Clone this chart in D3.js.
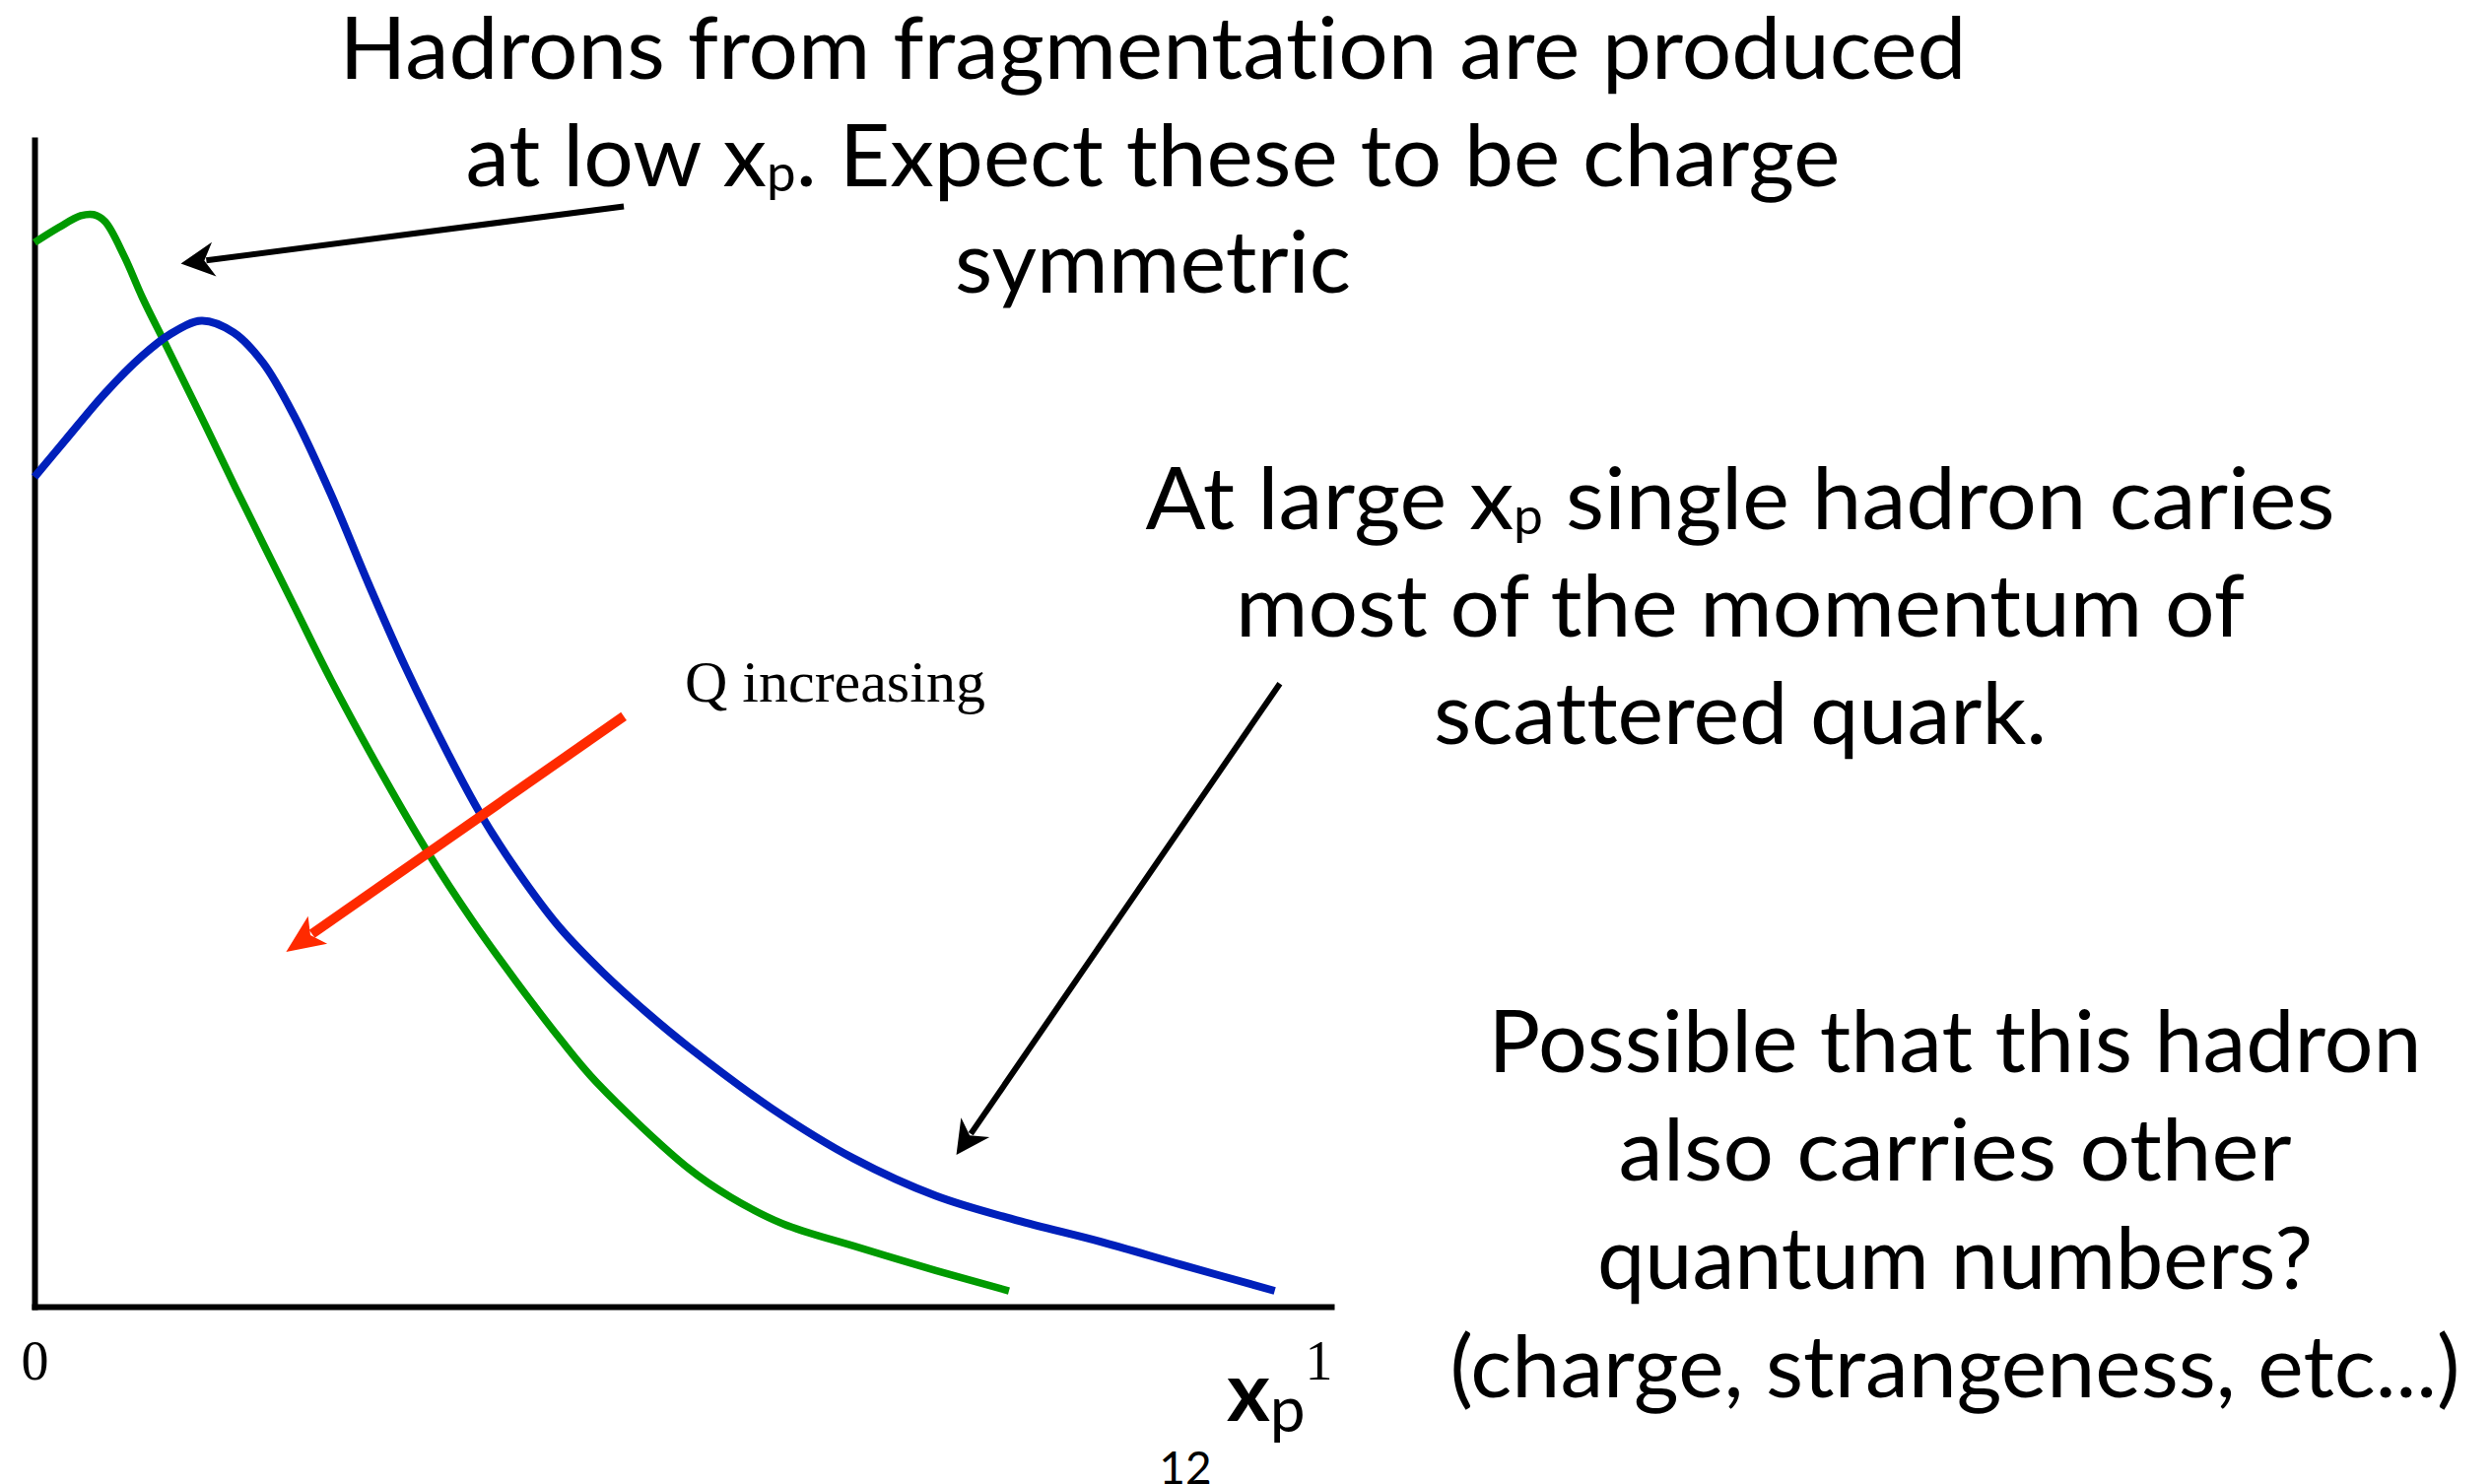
<!DOCTYPE html>
<html>
<head>
<meta charset="utf-8">
<script src="https://cdn.jsdelivr.net/npm/d3@7"></script>
<style>
  body { margin: 0; background: #fff; }
  svg { display: block; }
  text { font-variant-ligatures: none; }
</style>
</head>
<body>
<div id="chart"></div>
<script>
// fragmentation function sketch: D(x_p) for two values of Q
const lowQ = [
  [0, 0.912], [0.019, 0.925], [0.036, 0.935], [0.046, 0.936], [0.055, 0.930],
  [0.070, 0.900], [0.084, 0.865], [0.102, 0.825], [0.128, 0.767], [0.157, 0.701],
  [0.202, 0.601], [0.231, 0.537], [0.272, 0.454], [0.306, 0.390], [0.341, 0.331],
  [0.375, 0.279], [0.409, 0.230], [0.438, 0.192], [0.510, 0.118], [0.542, 0.094],
  [0.583, 0.071], [0.638, 0.052], [0.702, 0.031], [0.759, 0.0135]
];
const highQ = [
  [0, 0.711], [0.025, 0.744], [0.055, 0.783], [0.084, 0.815], [0.105, 0.833],
  [0.130, 0.845], [0.155, 0.835], [0.178, 0.809], [0.202, 0.764], [0.231, 0.696],
  [0.260, 0.620], [0.289, 0.548], [0.323, 0.472], [0.347, 0.423], [0.375, 0.375],
  [0.409, 0.325], [0.443, 0.286], [0.477, 0.252], [0.510, 0.222], [0.574, 0.170],
  [0.638, 0.127], [0.702, 0.095], [0.765, 0.074], [0.829, 0.056], [0.893, 0.036],
  [0.966, 0.0135]
];
const xTicks = [0, 1];

// arrows, in data units: [from, to]
const arrows = [
  { from: [0.459, 0.943], to: [0.114, 0.894], color: "#000", w: 6, head: [34, 17.5, 24] },
  { from: [0.970, 0.534], to: [0.718, 0.130], color: "#000", w: 6, head: [34, 17.5, 24] },
  { from: [0.459, 0.506], to: [0.196, 0.304], color: "#ff2a00", w: 10, head: [39, 17, 30] }
];

const topLines = ["Hadrons from fragmentation are produced", "at low x_p. Expect these to be charge", "symmetric"];
const largeLines = ["At large x_p single hadron caries", "most of the momentum of", "scattered quark."];
const otherLines = ["Possible that this hadron", "also carries other", "quantum numbers?", "(charge, strangeness, etc...)"];

var width = 2528, height = 1506;

const svg = d3.select("#chart")
  .append("svg")
  .attr("width", width)
  .attr("height", height);
svg.append("rect").attr("width", width).attr("height", height).attr("fill", "#fff");

var x = d3.scaleLinear().domain([0, 1.01]).range([35, 1351]);
var y = d3.scaleLinear().domain([0, 1]).range([1326, 142]);

// axes: no ticks, only the domain lines and the two end labels
svg.append("g")
  .attr("transform", "translate(0," + y(0) + ")")
  .call(d3.axisBottom(x).tickValues(xTicks).tickSize(0).tickSizeOuter(0).tickFormat(d3.format("d")))
  .call(g => g.select(".domain").attr("stroke", "#000").attr("stroke-width", 6).attr("stroke-linecap", "square"))
  .call(g => g.selectAll("text")
    .attr("dy", null).attr("y", 74)
    .attr("font-family", "Liberation Serif, Times New Roman, serif")
    .attr("font-size", 56).attr("fill", "#000"));

svg.append("g")
  .attr("transform", "translate(" + x(0) + ",0)")
  .call(d3.axisLeft(y).tickValues([]).tickSizeOuter(0))
  .call(g => g.select(".domain").attr("stroke", "#000").attr("stroke-width", 6).attr("stroke-linecap", "square"));

// curves
var line = d3.line()
  .x(d => x(d[0]))
  .y(d => y(d[1]))
  .curve(d3.curveCatmullRom.alpha(0.5));

svg.append("path").datum(lowQ)
  .attr("d", line).attr("fill", "none")
  .attr("stroke", "#009a00").attr("stroke-width", 7.5);
svg.append("path").datum(highQ)
  .attr("d", line).attr("fill", "none")
  .attr("stroke", "#0020bb").attr("stroke-width", 8);

// arrows with notched heads
arrows.forEach(a => {
  const sx = x(a.from[0]), sy = y(a.from[1]);
  const tx = x(a.to[0]), ty = y(a.to[1]);
  const len = Math.hypot(tx - sx, ty - sy);
  const ux = (tx - sx) / len, uy = (ty - sy) / len;
  const nx = -uy, ny = ux;
  const [L, W, N] = a.head;
  svg.append("line")
    .attr("x1", sx).attr("y1", sy)
    .attr("x2", tx - ux * (N + 2)).attr("y2", ty - uy * (N + 2))
    .attr("stroke", a.color).attr("stroke-width", a.w);
  const pts = [
    [tx, ty],
    [tx - ux * L + nx * W, ty - uy * L + ny * W],
    [tx - ux * N, ty - uy * N],
    [tx - ux * L - nx * W, ty - uy * L - ny * W]
  ];
  svg.append("path")
    .attr("d", "M" + pts.map(p => p.join(",")).join("L") + "Z")
    .attr("fill", a.color);
});

// text blocks
const sans = "Lato, 'Open Sans', sans-serif";
function block(lines, cx, y0, lh, widths) {
  lines.forEach((s, i) => {
    const t = svg.append("text")
      .attr("x", cx).attr("y", y0 + i * lh)
      .attr("text-anchor", "middle")
      .attr("font-family", sans)
      .attr("font-size", 88)
      .attr("fill", "#000")
      .attr("textLength", widths[i])
      .attr("lengthAdjust", "spacingAndGlyphs");
    const parts = s.split("x_p");
    parts.forEach((p, j) => {
      if (j > 0) {
        t.append("tspan").text("x");
        t.append("tspan").attr("font-size", 52).attr("dy", 5).text("p");
        t.append("tspan").attr("dy", -5).text(p);
      } else {
        t.append("tspan").text(p);
      }
    });
  });
}
block(topLines, 1170, 80, 108.5, [1651, 1395, 402]);
block(largeLines, 1766, 537, 109, [1207, 1024, 622]);
block(otherLines, 1984, 1088, 110, [947, 683, 726, 1025]);

svg.append("text")
  .attr("x", 695).attr("y", 712)
  .attr("font-family", "Liberation Serif, Times New Roman, serif")
  .attr("font-size", 60)
  .text("Q increasing");

// axis title x_p
const xl = svg.append("text")
  .attr("x", 1245).attr("y", 1442)
  .attr("font-family", sans);
xl.append("tspan").attr("font-size", 84).attr("font-weight", 700).text("x");
xl.append("tspan").attr("font-size", 64).attr("dy", 11).text("p");

// page number
svg.append("text")
  .attr("x", 1203).attr("y", 1506)
  .attr("text-anchor", "middle")
  .attr("font-family", sans)
  .attr("font-size", 46)
  .text("12");
</script>
</body>
</html>
